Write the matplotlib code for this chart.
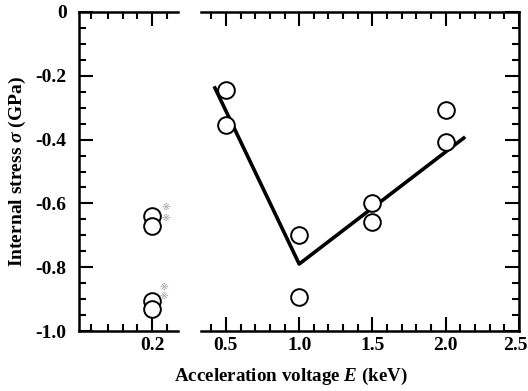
import matplotlib
matplotlib.use('Agg')
import matplotlib.pyplot as plt
import matplotlib.transforms as mtransforms
from matplotlib.ticker import MultipleLocator, FixedLocator

plt.rcParams['font.family'] = ['Liberation Serif', 'DejaVu Sans']
plt.rcParams['font.weight'] = 'bold'
plt.rcParams['mathtext.fontset'] = 'custom'
plt.rcParams['mathtext.it'] = 'Liberation Serif:italic:bold'
plt.rcParams['mathtext.rm'] = 'Liberation Serif:bold'

# left panel (0.2 keV)
low_x = [0.2, 0.2, 0.2, 0.2]
low_y = [-0.64, -0.67, -0.905, -0.93]
# gray marks beside the low-energy points
mark_x = [0.296, 0.296, 0.278, 0.278]
mark_y = [-0.612, -0.646, -0.865, -0.893]

# right panel
E = [0.5, 0.5, 1.0, 1.0, 1.5, 1.5, 2.0, 2.0]
sigma = [-0.245, -0.355, -0.70, -0.893, -0.598, -0.658, -0.307, -0.407]
fit_x = [0.425, 1.0, 2.123]
fit_y = [-0.238, -0.79, -0.395]

yticks = [0, -0.2, -0.4, -0.6, -0.8, -1.0]
ylabels = ['0', '-0.2', '-0.4', '-0.6', '-0.8', '-1.0']
xticks = [0.5, 1.0, 1.5, 2.0, 2.5]
xlabels = ['0.5', '1.0', '1.5', '2.0', '2.5']

fig = plt.figure(figsize=(5.28, 3.91), dpi=100)
bottom, height = 1 - 331 / 391, (331 - 12) / 391
ax1 = fig.add_axes([79 / 528, bottom, 99 / 528, height])
ax2 = fig.add_axes([201 / 528, bottom, 318 / 528, height])

lw = 1.8
for ax in (ax1, ax2):
    ax.set_ylim(-1.0, 0)
    for s in ax.spines.values():
        s.set_linewidth(lw)
    ax.yaxis.set_major_locator(MultipleLocator(0.2))
    ax.yaxis.set_minor_locator(MultipleLocator(0.05))
    ax.tick_params(which='both', direction='in', width=1.5, top=True, bottom=True,
                   labelsize=14)
    ax.tick_params(which='major', length=10)
    ax.tick_params(which='minor', length=5)
    ax.tick_params(axis='x', which='major', pad=4)

ax1.spines['right'].set_visible(False)
ax1.set_xlim(-0.3, 0.378)
ax1.xaxis.set_major_locator(FixedLocator([0.2]))
ax1.xaxis.set_minor_locator(FixedLocator([-0.22, -0.1, 0.0, 0.1, 0.3]))
ax1.set_xticklabels(['0.2'])
ax1.set_yticks(yticks)
ax1.set_yticklabels(ylabels)
ax1.tick_params(axis='y', which='both', left=True, right=False)
ax1.tick_params(axis='y', which='major', pad=9)
ax1.plot(low_x, low_y, 'o', ms=12, mfc='white', mec='black', mew=1.4, zorder=3)
for x, y in zip(mark_x, mark_y):
    ax1.text(x, y, '※', color='#a0a0a0', fontsize=6.5, ha='center', va='center',
             family=['DejaVu Sans'])

ax2.spines['left'].set_visible(False)
ax2.set_xlim(0.33, 2.5)
ax2.xaxis.set_minor_locator(MultipleLocator(0.1))
ax2.set_xticks(xticks)
ax2.set_xticklabels(xlabels)
ax2.yaxis.tick_right()
ax2.tick_params(axis='y', which='both', left=False, right=True,
                labelleft=False, labelright=False)
ax2.plot(fit_x, fit_y, '-', color='black', lw=2.6, zorder=2)
ax2.plot(E, sigma, 'o', ms=12, mfc='white', mec='black', mew=1.4, zorder=3)

# last tick label sits against the figure edge
last = ax2.get_xticklabels()[-1]
last.set_transform(last.get_transform() +
                   mtransforms.ScaledTranslation(-4 / 100, 0, fig.dpi_scale_trans))

fig.text(291 / 528, 0.01, r'Acceleration voltage $E$ (keV)', ha='center', va='bottom',
         fontsize=13.7, fontweight='bold')
fig.text(0.033, 1 - 171 / 391, r'Internal stress $\sigma$ (GPa)',
         ha='center', va='center', rotation=90, fontsize=14, fontweight='bold')

fig.savefig('out.png', dpi=100)
